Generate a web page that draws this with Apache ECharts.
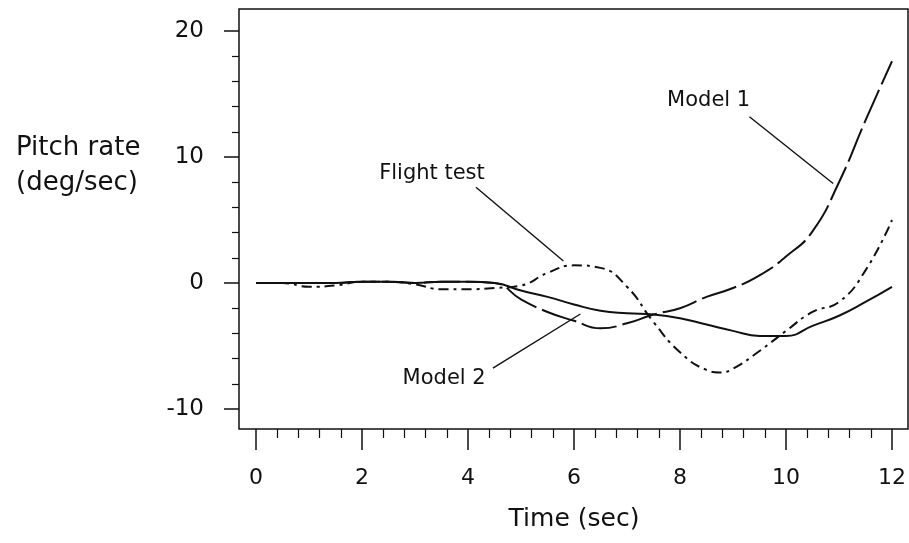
<!DOCTYPE html>
<html>
<head>
<meta charset="utf-8">
<script src="https://cdn.jsdelivr.net/npm/echarts@6/dist/echarts.min.js"></script>
<style>
  html, body { margin: 0; padding: 0; background: #fff; }
  #chart { width: 909px; height: 543px; }
</style>
</head>
<body>
<div id="chart"></div>
<script>
let modelTime = [0, 0.5, 1, 1.5, 2, 2.5, 3, 3.5, 4, 4.5, 5, 5.5, 6, 6.5, 7, 7.5, 8, 8.5, 9, 9.5, 10, 10.5, 11, 11.5, 12];
let model1 = [0, 0, 0, 0, 0.1, 0.1, 0, 0.1, 0.1, 0, -1.3, -2.3, -3.0, -3.6, -3.2, -2.5, -2.0, -1.1, -0.4, 0.6, 2.1, 4.1, 8.0, 12.9, 17.6];
let model2 = [0, 0, 0, 0, 0.1, 0.1, 0, 0.1, 0.1, 0, -0.6, -1.1, -1.7, -2.2, -2.4, -2.5, -2.8, -3.3, -3.8, -4.2, -4.2, -3.4, -2.6, -1.5, -0.3];

let flightTime = [0, 0.5, 1, 1.5, 2, 2.5, 3, 3.5, 4, 4.5, 5, 5.5, 6, 6.5, 7, 7.5, 8, 8.5, 8.75, 9, 9.5, 10, 10.5, 11, 11.5, 12];
let flightTest = [0, 0, -0.3, -0.2, 0.1, 0.1, -0.1, -0.5, -0.5, -0.4, -0.2, 0.8, 1.4, 1.2, -0.3, -3.1, -5.5, -6.9, -7.1, -6.8, -5.4, -3.8, -2.3, -1.5, 1.0, 5.0];

let xTicks = [0, 2, 4, 6, 8, 10, 12];
let yTicks = [-10, 0, 10, 20];

// labels and leader lines, in data units
let labelNames = ['Model 1', 'Flight test', 'Model 2'];
let labelAt = [[8.54, 14.5], [3.32, 8.7], [3.55, -7.55]];
let leaderFrom = [[9.31, 13.2], [4.15, 7.6], [4.47, -6.75]];
let leaderTo = [[10.89, 7.9], [5.8, 1.75], [6.12, -2.46]];

let ink = '#111';
let font = 'DejaVu Sans';

function pairs(times, vals) {
    return times.map(function (t, i) { return [t, vals[i]]; });
}

let chart = echarts.init(document.getElementById('chart'));

let option = {
    animation: false,
    backgroundColor: '#fff',
    title: {
        text: 'Pitch rate\n(deg/sec)',
        left: 11,
        top: 126,
        textStyle: {
            fontFamily: font,
            fontWeight: 'normal',
            fontSize: 26,
            lineHeight: 35,
            color: ink
        }
    },
    grid: [
        { left: 256, right: 14, top: 31, bottom: 134 },
        {
            left: 239, right: 1, top: 9, bottom: 114,
            show: true, borderColor: ink, borderWidth: 1.5,
            backgroundColor: 'transparent'
        }
    ],
    xAxis: [
        {
            gridIndex: 0,
            type: 'value',
            min: xTicks[0],
            max: xTicks[xTicks.length - 1],
            interval: 2,
            offset: 20,
            axisLine: { show: false, onZero: false },
            splitLine: { show: false },
            axisTick: { length: 21, lineStyle: { color: ink, width: 1.5 } },
            minorTick: { show: true, splitNumber: 5, length: 9, lineStyle: { color: ink, width: 1.2 } },
            axisLabel: { margin: 38, fontSize: 22, fontFamily: font, color: ink },
            name: 'Time (sec)',
            nameLocation: 'middle',
            nameGap: 78,
            nameTextStyle: { fontSize: 25, fontFamily: font, color: ink }
        },
        { gridIndex: 1, type: 'value', show: false, min: 0, max: 1 }
    ],
    yAxis: [
        {
            gridIndex: 0,
            type: 'value',
            min: yTicks[0],
            max: yTicks[yTicks.length - 1],
            interval: 10,
            offset: 17,
            axisLine: { show: false, onZero: false },
            splitLine: { show: false },
            axisTick: { length: 15, lineStyle: { color: ink, width: 1.5 } },
            minorTick: { show: true, splitNumber: 5, length: 7, lineStyle: { color: ink, width: 1.2 } },
            axisLabel: { margin: 35, fontSize: 23, fontFamily: font, color: ink }
        },
        { gridIndex: 1, type: 'value', show: false, min: 0, max: 1 }
    ],
    series: [
        {
            name: 'Model 1',
            type: 'line',
            smooth: true,
            symbol: 'none',
            data: pairs(modelTime, model1),
            lineStyle: { color: ink, width: 2, type: [36, 6] },
            markPoint: {
                symbol: 'circle',
                symbolSize: 1,
                itemStyle: { color: 'transparent' },
                label: {
                    show: true,
                    position: 'inside',
                    formatter: '{b}',
                    fontSize: 21,
                    fontFamily: font,
                    color: ink
                },
                data: labelNames.map(function (n, i) { return { name: n, coord: labelAt[i] }; })
            },
            markLine: {
                silent: true,
                symbol: ['none', 'none'],
                label: { show: false },
                lineStyle: { color: ink, width: 1.4, type: 'solid' },
                data: leaderFrom.map(function (p, i) { return [{ coord: p }, { coord: leaderTo[i] }]; })
            }
        },
        {
            name: 'Model 2',
            type: 'line',
            smooth: true,
            symbol: 'none',
            data: pairs(modelTime, model2),
            lineStyle: { color: ink, width: 2, type: 'solid' }
        },
        {
            name: 'Flight test',
            type: 'line',
            smooth: true,
            symbol: 'none',
            data: pairs(flightTime, flightTest),
            lineStyle: { color: ink, width: 2, type: [10, 5, 3, 5] }
        }
    ]
};

chart.setOption(option);
</script>
</body>
</html>
